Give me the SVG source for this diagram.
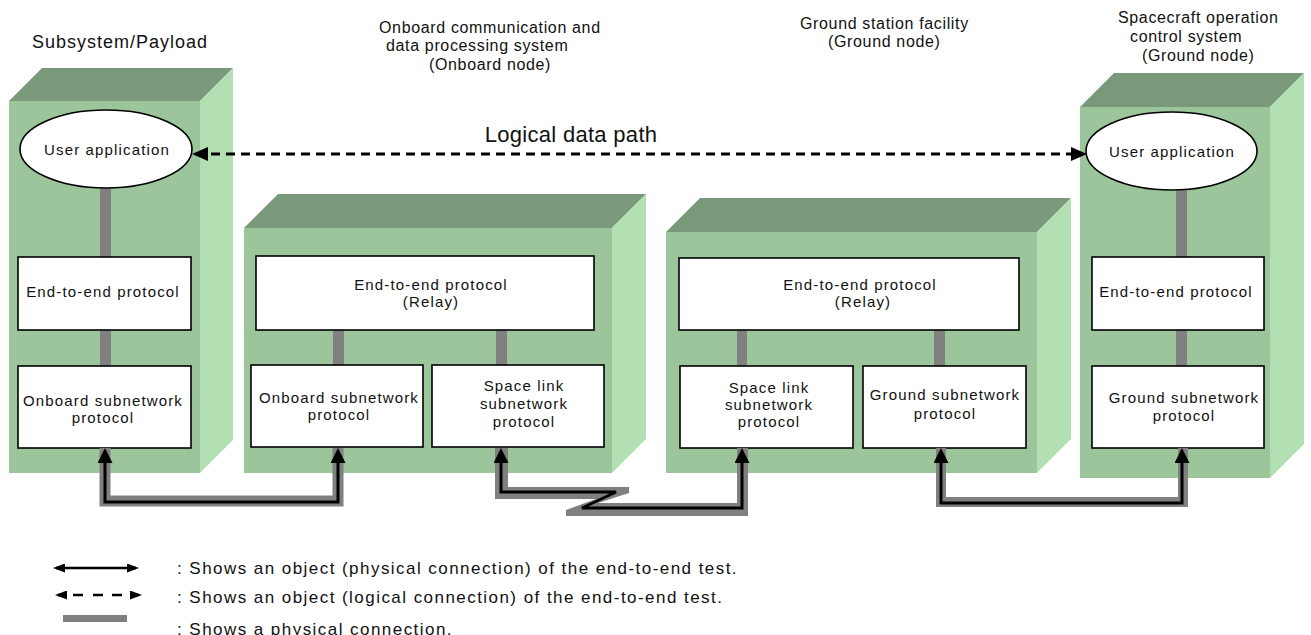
<svg xmlns="http://www.w3.org/2000/svg" width="1311" height="635" viewBox="0 0 1311 635">
<style>
.front{fill:#9cc59b}
.top{fill:#7a987a}
.side{fill:#b2e0b2}
.box{fill:#ffffff;stroke:#000000;stroke-width:1.6}
.bar{fill:#808080}
.t{font-family:"Liberation Sans",Arial,sans-serif;font-size:15px;letter-spacing:1.15px;fill:#111111;text-anchor:middle}
.h{font-family:"Liberation Sans",Arial,sans-serif;font-size:16px;letter-spacing:0.65px;fill:#111111}
.lg{font-family:"Liberation Sans",Arial,sans-serif;font-size:17px;letter-spacing:1.45px;fill:#111111}
.phys{fill:none;stroke:#000000;stroke-width:3;stroke-linejoin:miter;marker-start:url(#ah);marker-end:url(#ah)}
.shadow{fill:none;stroke:#808080;stroke-width:11;stroke-linejoin:miter}
</style>
<defs>
<marker id="ah" markerUnits="userSpaceOnUse" markerWidth="15" markerHeight="15" refX="11" refY="7.5" orient="auto-start-reverse"><path d="M0,0 L15,7.5 L0,15 Z" fill="#000000"/></marker>
<marker id="dh" markerUnits="userSpaceOnUse" markerWidth="16" markerHeight="14" refX="12" refY="7" orient="auto-start-reverse"><path d="M0,0 L16,7 L0,14 Z" fill="#000000"/></marker>
<marker id="lh" markerUnits="userSpaceOnUse" markerWidth="12" markerHeight="9" refX="9" refY="4.5" orient="auto-start-reverse"><path d="M0,0 L12,4.5 L0,9 Z" fill="#000000"/></marker>
</defs>

<g id="headers">
<text class="h" x="32" y="48" style="font-size:18px;letter-spacing:1px">Subsystem/Payload</text>
<text class="h" x="379" y="32.5">Onboard communication and</text>
<text class="h" x="386" y="51">data processing system</text>
<text class="h" x="429" y="70">(Onboard node)</text>
<text class="h" x="800" y="28.5">Ground station facility</text>
<text class="h" x="828" y="47">(Ground node)</text>
<text class="h" x="1118" y="23">Spacecraft operation</text>
<text class="h" x="1130" y="42">control system</text>
<text class="h" x="1142" y="60.5">(Ground node)</text>
</g>

<g id="node-subsystem">
<polygon class="top" points="9,101 42,68 233,68 200,101"/>
<polygon class="side" points="200,101 233,68 233,440 200,473"/>
<rect class="front" x="9" y="101" width="191" height="372"/>
<rect class="bar" x="100" y="186" width="11" height="72"/>
<rect class="bar" x="100" y="329" width="11" height="38"/>
<ellipse class="box" cx="106" cy="149" rx="86" ry="39"/>
<text class="t" x="107" y="155">User application</text>
<rect class="box" x="18" y="257" width="173" height="73"/>
<text class="t" x="103" y="297">End-to-end protocol</text>
<rect class="box" x="18" y="366" width="173" height="82"/>
<text class="t" x="103" y="406">Onboard subnetwork</text>
<text class="t" x="103" y="423">protocol</text>
</g>

<g id="node-onboard">
<polygon class="top" points="244,228 278,194 646,194 612,228"/>
<polygon class="side" points="612,228 646,194 646,439 612,473"/>
<rect class="front" x="244" y="228" width="368" height="245"/>
<rect class="bar" x="333" y="329" width="11" height="37"/>
<rect class="bar" x="496" y="329" width="11" height="37"/>
<rect class="box" x="256" y="256" width="338" height="74"/>
<text class="t" x="431" y="290">End-to-end protocol</text>
<text class="t" x="431" y="307">(Relay)</text>
<rect class="box" x="251" y="365" width="172" height="82"/>
<text class="t" x="339" y="403">Onboard subnetwork</text>
<text class="t" x="339" y="420">protocol</text>
<rect class="box" x="432" y="365" width="172" height="82"/>
<text class="t" x="524" y="391">Space link</text>
<text class="t" x="524" y="409">subnetwork</text>
<text class="t" x="524" y="427">protocol</text>
</g>

<g id="node-ground-station">
<polygon class="top" points="666,232 700,198 1071,198 1037,232"/>
<polygon class="side" points="1037,232 1071,198 1071,439 1037,473"/>
<rect class="front" x="666" y="232" width="371" height="241"/>
<rect class="bar" x="737" y="329" width="10" height="38"/>
<rect class="bar" x="934" y="329" width="11" height="38"/>
<rect class="box" x="679" y="258" width="340" height="72"/>
<text class="t" x="860" y="290">End-to-end protocol</text>
<text class="t" x="863" y="307">(Relay)</text>
<rect class="box" x="680" y="366" width="173" height="82"/>
<text class="t" x="769" y="393">Space link</text>
<text class="t" x="769" y="410">subnetwork</text>
<text class="t" x="769" y="427">protocol</text>
<rect class="box" x="863" y="366" width="163" height="82"/>
<text class="t" x="945" y="400">Ground subnetwork</text>
<text class="t" x="945" y="419">protocol</text>
</g>

<g id="node-operation-control">
<polygon class="top" points="1080,107 1114,73 1304,73 1270,107"/>
<polygon class="side" points="1270,107 1304,73 1304,444 1270,478"/>
<rect class="front" x="1080" y="107" width="190" height="371"/>
<rect class="bar" x="1176" y="188" width="11" height="70"/>
<rect class="bar" x="1176" y="329" width="11" height="38"/>
<ellipse class="box" cx="1171.5" cy="151" rx="85.5" ry="39"/>
<text class="t" x="1172" y="157">User application</text>
<rect class="box" x="1092" y="257" width="172" height="73"/>
<text class="t" x="1176" y="297">End-to-end protocol</text>
<rect class="box" x="1092" y="366" width="172" height="82"/>
<text class="t" x="1184" y="403">Ground subnetwork</text>
<text class="t" x="1184" y="421">protocol</text>
</g>

<g id="connectors">
<path class="shadow" d="M105,448 V501 H338 V448"/>
<polygon fill="#808080" points="495,448 508,448 508,487 629,487 629,493 598,503 737,503 737,448 748,448 748,516 566,516 566,510 596,499 495,499"/>
<path class="shadow" d="M941,448 V502 H1183 V448" style="stroke-width:10"/>
<path class="phys" d="M105,452 V502 H338 V452"/>
<path class="phys" d="M501,452 V492 H616 L582,508 H742 V452"/>
<path class="phys" d="M941,452 V503 H1182 V452"/>
<path d="M196,154 H1083" fill="none" stroke="#000000" stroke-width="3" stroke-dasharray="9 6" marker-start="url(#dh)" marker-end="url(#dh)"/>
<text x="571" y="141.5" style="font-family:'Liberation Sans',Arial,sans-serif;font-size:22px;letter-spacing:0.3px;fill:#111111;text-anchor:middle">Logical data path</text>
</g>

<g id="legend">
<path d="M56,568 H136" fill="none" stroke="#000000" stroke-width="2.5" marker-start="url(#lh)" marker-end="url(#lh)"/>
<path d="M58,595 H139" fill="none" stroke="#000000" stroke-width="2.5" stroke-dasharray="7 8 10 10 10 9 10 8 9 50" marker-start="url(#lh)" marker-end="url(#lh)"/>
<rect class="bar" x="63" y="615" width="64" height="7"/>
<text class="lg" x="177" y="574">: Shows an object (physical connection) of the end-to-end test.</text>
<text class="lg" x="177" y="603">: Shows an object (logical connection) of the end-to-end test.</text>
<text class="lg" x="177" y="635">: Shows a physical connection.</text>
</g>
</svg>
